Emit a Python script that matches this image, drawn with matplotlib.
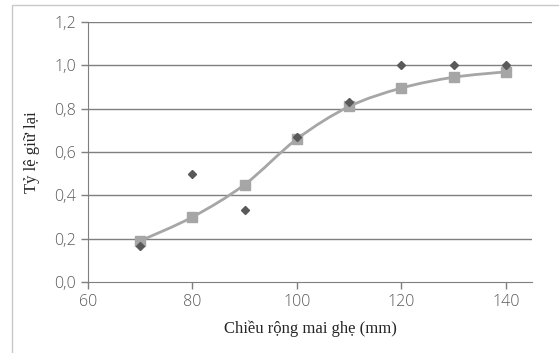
import matplotlib.pyplot as plt
from matplotlib.path import Path
from matplotlib.patches import PathPatch, Rectangle

# chiều rộng mai ghẹ (mm)
width_mm = [70, 80, 90, 100, 110, 120, 130, 140]
# tỷ lệ giữ lại quan sát
observed = [0.167, 0.5, 0.333, 0.667, 0.833, 1.0, 1.0, 1.0]
# tỷ lệ giữ lại ước tính
fitted = [0.19, 0.30, 0.45, 0.66, 0.81, 0.895, 0.945, 0.97]

y_ticks = [0.0, 0.2, 0.4, 0.6, 0.8, 1.0, 1.2]
x_ticks = [60, 80, 100, 120, 140]


def smooth_path(xs, ys):
    # đường cong mượt kiểu Excel (Catmull-Rom -> Bezier)
    pts = list(zip(xs, ys))
    verts = [pts[0]]
    codes = [Path.MOVETO]
    n = len(pts)
    for i in range(n - 1):
        p0 = pts[i - 1] if i > 0 else pts[i]
        p1 = pts[i]
        p2 = pts[i + 1]
        p3 = pts[i + 2] if i + 2 < n else pts[i + 1]
        c1 = (p1[0] + (p2[0] - p0[0]) / 6, p1[1] + (p2[1] - p0[1]) / 6)
        c2 = (p2[0] - (p3[0] - p1[0]) / 6, p2[1] - (p3[1] - p1[1]) / 6)
        verts += [c1, c2, p2]
        codes += [Path.CURVE4] * 3
    return Path(verts, codes)


def draw():
    fig = plt.figure(figsize=(5.59, 3.53), dpi=100)
    fig.patches.append(Rectangle((12 / 559, -0.1), 1.2, 0.1 + 1 - 5 / 353,
                                 transform=fig.transFigure, fill=False,
                                 edgecolor='#c8c8c8', lw=1))
    ax = fig.add_axes([88 / 559, 1 - 282 / 353, (532 - 88) / 559, (282 - 22) / 353])

    for y in y_ticks[1:]:
        ax.axhline(y, color='#7f7f7f', lw=1, zorder=1)

    ax.add_patch(PathPatch(smooth_path(width_mm, fitted), fill=False,
                           edgecolor='#a6a6a6', lw=2, zorder=2))
    ax.plot(width_mm, observed, 'D', color='#595959', markersize=4.5, zorder=4)
    ax.plot(width_mm, fitted, 's', color='#a6a6a6', markersize=7, zorder=3)

    ax.set_xlim(60, 145)
    ax.set_ylim(0, 1.2)
    ax.set_xticks(x_ticks)
    ax.set_yticks(y_ticks)
    ax.set_yticklabels([f'{v:.1f}'.replace('.', ',') for v in y_ticks])
    ax.tick_params(colors='#7f7f7f', labelcolor='#595959', labelsize=11.5,
                   length=5, width=1)
    for lab in ax.get_xticklabels() + ax.get_yticklabels():
        lab.set_family('Open Sans')
        lab.set_fontweight('light')

    for s in ['top', 'right']:
        ax.spines[s].set_visible(False)
    for s in ['left', 'bottom']:
        ax.spines[s].set_color('#7f7f7f')

    ax.set_xlabel('Chiều rộng mai ghẹ (mm)', family='Liberation Serif',
                  fontsize=12, color='#262626', labelpad=8)
    ax.set_ylabel('Tỷ lệ giữ lại', family='Liberation Serif',
                  fontsize=12, color='#262626', labelpad=10)
    fig.savefig('out.png', dpi=100)


if __name__ == '__main__':
    draw()
